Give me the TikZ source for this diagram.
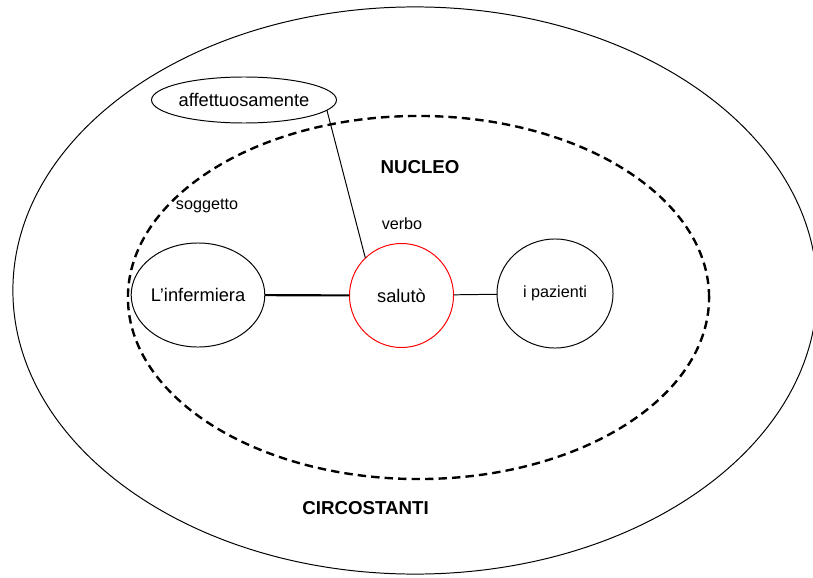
\documentclass[tikz,border=0pt]{standalone}
\usepackage{fontspec}
\setmainfont{Liberation Sans}
\usetikzlibrary{shapes.geometric}
\tikzset{
    blob/.style = {ellipse, draw, line width = 0.7pt, inner sep = 0pt, outer sep = 0pt, font = \fontsize{13}{15}\selectfont},
    tag/.style = {font = \fontsize{11.5}{13}\selectfont},
    title/.style = {font = \fontsize{13.3}{15}\selectfont\bfseries}
}
\begin{document}
\begin{tikzpicture}[x = 0.025cm, y = -0.025cm]
                \useasboundingbox (0, 0) rectangle (813, 577);
                % the two areas
                \draw [line width = 0.7pt] (415, 290.5) ellipse [x radius = 10.05cm, y radius = 7.0875cm];
                \draw [line width = 1.7pt, dash pattern = on 6pt off 3.6pt] 
                    (418.5, 297.5) ellipse [x radius = 7.2625cm, y radius = 4.5375cm];
                % the words
                \node [blob, minimum width = 4.45cm, minimum height = 1.15cm] (avverbio) at (244, 100) {affettuosamente};
                \node [blob, minimum width = 3.1cm, minimum height = 2.6cm] (infermiera) at (198, 295) {L’infermiera};
                \node [blob, draw = red, minimum width = 2.6cm, minimum height = 2.6cm] (saluto) at (401.5, 295.5) {salutò};
                \node [blob, minimum width = 2.9cm, minimum height = 2.725cm, font = \fontsize{11.5}{13}\selectfont] (pazienti) at (555, 293.5) {i pazienti};
                \draw [line width = 1.5pt] (infermiera) -- (saluto);
                \draw [line width = 0.7pt] (saluto) -- (pazienti);
                \draw [line width = 0.7pt] (avverbio.-7) -- (saluto.134);
                % labels
                \node [title] (nucleo) at (420, 167) {NUCLEO};
                \node [tag] (soggetto) at (207, 206) {soggetto};
                \node [tag] (verbo) at (402, 224) {verbo};
                \node [title] (circostanti) at (365.5, 508) {CIRCOSTANTI};
            \end{tikzpicture}
\end{document}
